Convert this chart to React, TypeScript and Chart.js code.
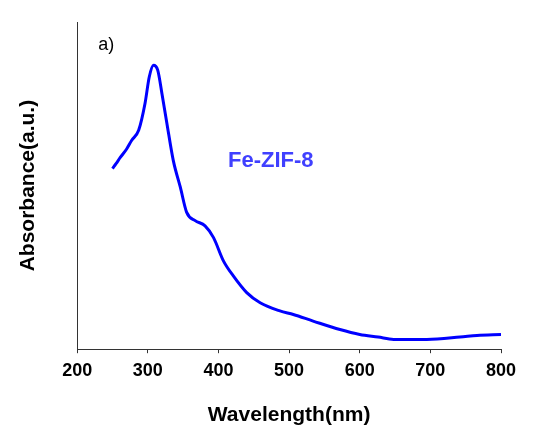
import React, { useEffect, useRef } from "react";
import { Chart, registerables } from "chart.js";

Chart.register(...registerables);

const wavelengths = [250, 255, 261, 270, 277, 287, 296, 302, 308, 314, 320, 327, 336, 346, 355, 367, 381, 393, 407, 421, 440, 459, 487, 506, 534, 572, 600, 626, 648, 695, 742, 766, 800];
const absorbance = [0.552, 0.567, 0.586, 0.612, 0.638, 0.669, 0.751, 0.832, 0.868, 0.853, 0.781, 0.69, 0.577, 0.495, 0.418, 0.393, 0.377, 0.341, 0.27, 0.224, 0.173, 0.142, 0.117, 0.106, 0.086, 0.06, 0.045, 0.037, 0.03, 0.03, 0.037, 0.042, 0.045];

const panelLabel = { text: "a)", x: 241, y: 0.929 };
const seriesLabel = { text: "Fe-ZIF-8", x: 474, y: 0.575 };

const FONT = "'Liberation Sans', Arial, sans-serif";

const labelsPlugin = {
  id: "labels",
  afterDatasetsDraw(chart: any) {
    const { ctx, scales } = chart;
    const xs = scales.x;
    const ys = scales.y;
    ctx.save();
    ctx.textAlign = "center";
    ctx.textBaseline = "middle";
    ctx.font = `18px ${FONT}`;
    ctx.fillStyle = "#000";
    ctx.fillText(panelLabel.text, xs.getPixelForValue(panelLabel.x), ys.getPixelForValue(panelLabel.y));
    ctx.font = `bold 22px ${FONT}`;
    ctx.fillStyle = "#4040ff";
    ctx.fillText(seriesLabel.text, xs.getPixelForValue(seriesLabel.x), ys.getPixelForValue(seriesLabel.y));
    ctx.restore();
  },
};

export default function App() {
  const ref = useRef<HTMLCanvasElement>(null);
  useEffect(() => {
    if (!ref.current) return;
    const chart = new Chart(ref.current, {
      type: "line",
      data: {
        datasets: [
          {
            data: wavelengths.map((w, i) => ({ x: w, y: absorbance[i] })),
            borderColor: "#0000ff",
            borderWidth: 3,
            pointRadius: 0,
            fill: false,
            cubicInterpolationMode: "monotone",
          },
        ],
      },
      options: {
        animation: false,
        responsive: false,
        maintainAspectRatio: false,
        layout: { padding: { top: 22, right: 34, bottom: 0, left: 16 } },
        plugins: { legend: { display: false }, tooltip: { enabled: false } },
        scales: {
          x: {
            type: "linear",
            min: 200,
            max: 800,
            grid: { drawOnChartArea: false, drawTicks: true, tickLength: 4, color: "#333" },
            border: { display: true, color: "#333", width: 1 },
            ticks: { stepSize: 100, padding: 7, color: "#000", font: { family: FONT, size: 18, weight: "bold" } },
            title: { display: true, text: "Wavelength(nm)", color: "#000", font: { family: FONT, size: 21, weight: "bold" }, padding: { top: 14, bottom: 0 } },
          },
          y: {
            min: 0,
            max: 1,
            grid: { display: false },
            border: { display: true, color: "#333", width: 1 },
            ticks: { display: false },
            title: { display: true, text: "Absorbance(a.u.)", color: "#000", font: { family: FONT, size: 21, weight: "bold" }, padding: { top: 0, bottom: 28 } },
          },
        },
      },
      plugins: [labelsPlugin],
    } as any);
    return () => chart.destroy();
  }, []);
  return (
    <div style={{ position: "fixed", left: 0, top: 0, width: 535, height: 428, background: "#fff" }}>
      <canvas ref={ref} width={535} height={428} style={{ width: 535, height: 428 }} />
    </div>
  );
}
